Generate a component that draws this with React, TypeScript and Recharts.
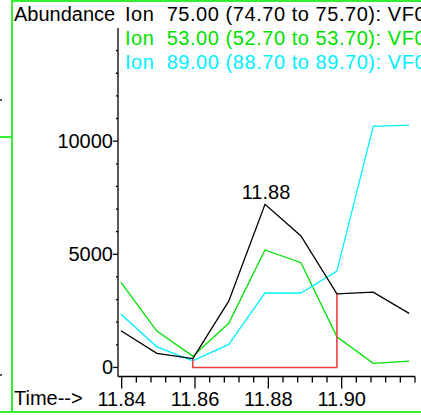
import React from "react";
import { LineChart, Line, XAxis, YAxis } from "recharts";

// scan times (min) and extracted ion abundances
const times = [11.8398, 11.8496, 11.8594, 11.8692, 11.8791, 11.8889, 11.8987, 11.9086, 11.9184];
const ion75 = [1620, 620, 390, 2930, 7210, 5810, 3250, 3330, 2390];
const ion53 = [3760, 1610, 500, 1950, 5190, 4630, 1350, 180, 280];
const ion89 = [2350, 910, 290, 1020, 3290, 3290, 4260, 10650, 10710];

// integration window on the Ion 75 trace (start / end scan)
const integStart = 2;
const integEnd = 6;

const xTicks = [
    11.84, 11.844, 11.848, 11.852, 11.856, 11.86, 11.864, 11.868, 11.872, 11.876, 11.88,
    11.884, 11.888, 11.892, 11.896, 11.9, 11.904, 11.908, 11.912, 11.916, 11.92,
];
const xLabelTicks = [11.84, 11.86, 11.88, 11.9];
const yTicks = [0, 1000, 2000, 3000, 4000, 5000, 6000, 7000, 8000, 9000, 10000, 11000, 12000, 13000, 14000];
const yLabelTicks = [0, 5000, 10000];

const legend = [
    { text: "Ion  75.00 (74.70 to 75.70): VF0", color: "#000000" },
    { text: "Ion  53.00 (52.70 to 53.70): VF0", color: "#00e000" },
    { text: "Ion  89.00 (88.70 to 89.70): VF0", color: "#00f0ff" },
];

const rows = times.map((t, i) => ({ t, ion75: ion75[i], ion53: ion53[i], ion89: ion89[i] }));

// baseline drawn under the integrated peak
const integLine = [
    { t: times[integStart], v: ion75[integStart] },
    { t: times[integStart], v: 0 },
    { t: times[integEnd], v: 0 },
    { t: times[integEnd], v: ion75[integEnd] },
];

const peakIndex = ion75.indexOf(Math.max(...ion75));

const FONT = "'Liberation Sans', Arial, sans-serif";
const GREEN_FRAME = "#33ee33";

const XTick = (props: any) => {
    const { x, y, payload } = props;
    const major = xLabelTicks.some((v) => Math.abs(v - payload.value) < 1e-6);
    return (
        <g>
            <line x1={x} x2={x} y1={y} y2={y + (major ? 12 : 6)} stroke="#000" strokeWidth={1.3} />
            {major && (
                <text x={x} y={y + 29.5} textAnchor="middle" fontSize={20} fontFamily={FONT} fill="#000">
                    {payload.value.toFixed(2)}
                </text>
            )}
        </g>
    );
};

const YTick = (props: any) => {
    const { x, y, payload } = props;
    const major = yLabelTicks.includes(payload.value);
    return (
        <g>
            <line x1={x - (major ? 5 : 2)} x2={x} y1={y} y2={y} stroke="#000" strokeWidth={1.3} />
            {major && (
                <text x={x - 5} y={y} dy="0.35em" textAnchor="end" fontSize={20} fontFamily={FONT} fill="#000">
                    {payload.value}
                </text>
            )}
        </g>
    );
};

const PeakLabel = (props: any) => {
    const { x, y, index } = props;
    if (index !== peakIndex) return null;
    return (
        <text x={x + 1} y={y - 5.5} textAnchor="middle" fontSize={20} fontFamily={FONT} fill="#000">
            {times[peakIndex].toFixed(2)}
        </text>
    );
};

export default function App() {
    return (
        <div
            style={{
                position: "absolute",
                left: 0,
                top: 0,
                width: 421,
                height: 415,
                overflow: "hidden",
                background: "#fff",
                fontFamily: FONT,
            }}
        >
            <LineChart
                width={421}
                height={415}
                data={rows}
                margin={{ top: 28, right: 6, bottom: 0, left: 0 }}
                style={{ position: "absolute", left: 0, top: 0 }}
            >
                <XAxis
                    dataKey="t"
                    type="number"
                    domain={[11.839, 11.92]}
                    allowDataOverflow
                    ticks={xTicks}
                    interval={0}
                    tickSize={0}
                    tickMargin={0}
                    height={38.5}
                    axisLine={{ stroke: "#000", strokeWidth: 1.3 }}
                    tickLine={false}
                    tick={<XTick />}
                />
                <YAxis
                    type="number"
                    domain={[-400, 15000]}
                    allowDataOverflow
                    ticks={yTicks}
                    interval={0}
                    tickSize={0}
                    tickMargin={0}
                    width={118}
                    axisLine={{ stroke: "#000", strokeWidth: 1.3 }}
                    tickLine={false}
                    tick={<YTick />}
                />
                <Line
                    dataKey="ion53"
                    stroke="#00e000"
                    strokeWidth={1.3}
                    dot={false}
                    isAnimationActive={false}
                />
                <Line
                    dataKey="ion89"
                    stroke="#00f0ff"
                    strokeWidth={1.3}
                    dot={false}
                    isAnimationActive={false}
                />
                <Line
                    data={integLine}
                    dataKey="v"
                    stroke="#f04040"
                    strokeWidth={1.6}
                    dot={false}
                    isAnimationActive={false}
                />
                <Line
                    dataKey="ion75"
                    stroke="#000"
                    strokeWidth={1.3}
                    dot={false}
                    label={<PeakLabel />}
                    isAnimationActive={false}
                />
            </LineChart>

            {/* frame */}
            <div style={{ position: "absolute", left: 11, top: 0, width: 2, height: 413, background: GREEN_FRAME }} />
            <div style={{ position: "absolute", left: 11, top: 0, width: 410, height: 2, background: GREEN_FRAME }} />
            <div style={{ position: "absolute", left: 0, top: 411, width: 421, height: 2, background: GREEN_FRAME }} />
            <div style={{ position: "absolute", left: 0, top: 136, width: 11, height: 1.5, background: GREEN_FRAME }} />
            <div style={{ position: "absolute", left: 0, top: 99, width: 1.5, height: 1.5, background: "#555" }} />
            <div style={{ position: "absolute", left: 0, top: 374, width: 1.5, height: 1.5, background: "#555" }} />

            {/* titles */}
            <div style={{ position: "absolute", left: 14, top: 3, fontSize: 20, lineHeight: "23px", color: "#000" }}>
                Abundance
            </div>
            {legend.map((l, i) => (
                <div
                    key={l.text}
                    style={{
                        position: "absolute",
                        left: 125,
                        top: 3 + i * 24,
                        fontSize: 20,
                        letterSpacing: "0.55px",
                        lineHeight: "23px",
                        color: l.color,
                        whiteSpace: "pre",
                    }}
                >
                    {l.text}
                </div>
            ))}
            <div style={{ position: "absolute", left: 14, top: 387, fontSize: 20, lineHeight: "23px", color: "#000" }}>
                Time--&gt;
            </div>
        </div>
    );
}
